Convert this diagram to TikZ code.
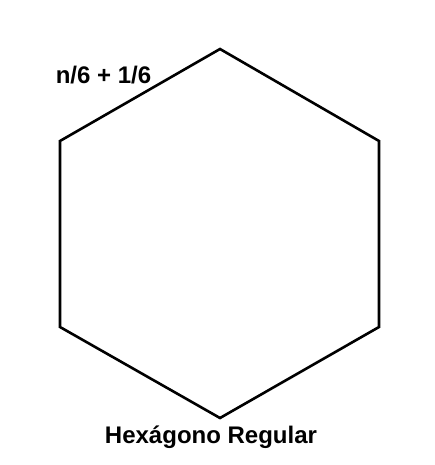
\documentclass[tikz,border=0pt]{standalone}
\usepackage{fontspec}
\setmainfont{Liberation Sans}
\usetikzlibrary{positioning}
\tikzset{
 edge/.style={line width=2.6pt,line join=miter},
 lbl/.style={font=\fontsize{24}{28}\selectfont\bfseries,inner sep=0pt},
}

\begin{document}
\begin{tikzpicture}[x=1pt,y=-1pt]
\useasboundingbox (0,0) rectangle (435,465);
\coordinate (top) at (220,49);
\coordinate (ur) at (379,141);
\coordinate (lr) at (379,327);
\coordinate (bot) at (220,418);
\coordinate (ll) at (60,327);
\coordinate (ul) at (60,141);
\draw[edge] (top) -- (ur) -- (lr) -- (bot) -- (ll) -- (ul) -- cycle;
\node[lbl] (side) at (103.5,75) {n/6 + 1/6};
\node[lbl] (name) at (211,437) {Hexágono Regular};
\end{tikzpicture}
\end{document}
